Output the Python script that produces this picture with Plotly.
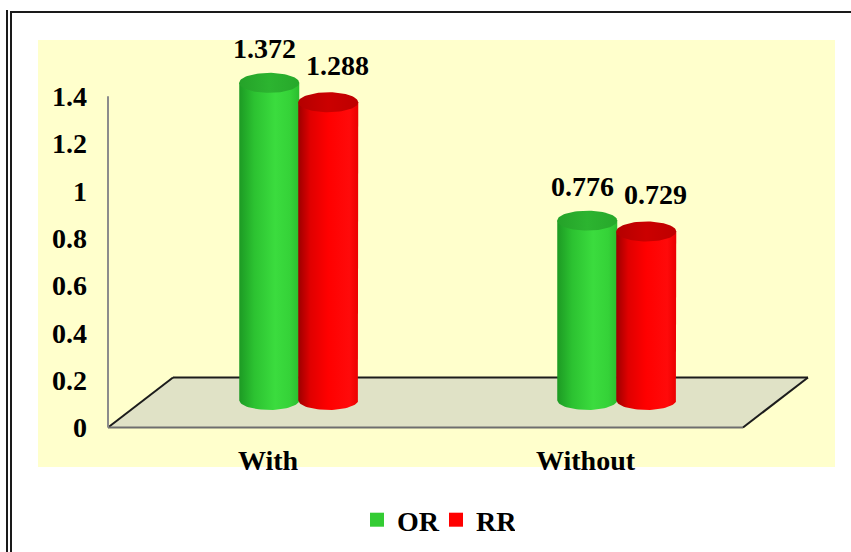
import numpy as np
import plotly.graph_objects as go

# ---- data -------------------------------------------------------------
categories = ["With", "Without"]
series_names = ["OR", "RR"]
or_values = [1.372, 0.776]
rr_values = [1.288, 0.729]
y_tick_values = [0, 0.2, 0.4, 0.6, 0.8, 1.0, 1.2, 1.4]
y_tick_labels = ["0", "0.2", "0.4", "0.6", "0.8", "1", "1.2", "1.4"]

# ---- geometry of the pseudo-3D scene ---------------------------------
W, H = 851, 552
STEP_PX = 318.0      # pixels between category anchors
ANCHOR_PX = 263.0    # pixel x of the first category (front edge of floor)
UNIT_PX = 236.6      # pixels per value unit on the y axis
ZERO_PX = 427.5      # pixel y of value 0 (front of floor)

x_range = [-ANCHOR_PX / STEP_PX, (W - ANCHOR_PX) / STEP_PX]
y_range = [-(H - ZERO_PX) / UNIT_PX, ZERO_PX / UNIT_PX]


def px_to_x(px):
    return (px - ANCHOR_PX) / STEP_PX


def py_to_v(dpx):
    return dpx / UNIT_PX


depth_dx = 65 / STEP_PX           # floor depth, horizontal
depth_dv = py_to_v(50)            # floor depth, vertical
bar_depth = 0.55                  # bars stand at 55% of the floor depth
perspective = 0.977               # deeper objects appear slightly shorter
half_w = 30 / STEP_PX             # cylinder radius (x units)
ell_h = py_to_v(10)               # cylinder cap half-height (value units)
series_offset = [-29.5 / STEP_PX, 29.5 / STEP_PX]

floor_front_left = px_to_x(108)
floor_front_right = px_to_x(743)

body_scales = [
    [[0, "#1d9a24"], [0.25, "#2cc231"], [0.6, "#3bdc3e"], [0.85, "#35d238"], [1, "#2bbd2f"]],
    [[0, "#9c0000"], [0.2, "#e00000"], [0.5, "#ff0000"], [0.85, "#ff0a0a"], [1, "#ea0000"]],
]
cap_scales = [
    [[0, "#25a229"], [0.5, "#2cb430"], [1, "#27a82b"]],
    [[0, "#b40000"], [0.5, "#cb0000"], [1, "#be0000"]],
]
legend_colors = ["#33cc33", "#ff0000"]
label_shift = [(-5, 34), (9, 37)]

FONT = "Liberation Serif"
FSIZE = 28

fig = go.Figure()

series_values = [or_values, rr_values]
base_v = bar_depth * depth_dv
theta = np.linspace(0, np.pi, 40)
theta_full = np.linspace(0, 2 * np.pi, 80)

annotations = []
for ci, cat in enumerate(categories):
    pair_x = ci + bar_depth * depth_dx
    for si, vals in enumerate(series_values):
        xc = pair_x + series_offset[si]
        top_v = base_v + vals[ci] * perspective
        # cylinder body: straight sides + front half of the base ellipse
        bx = [xc - half_w, xc - half_w, xc + half_w] + list(xc + half_w * np.cos(theta))
        by = [base_v, top_v, top_v] + list(base_v - ell_h * np.sin(theta))
        fig.add_trace(go.Scatter(
            x=bx, y=by, mode="lines", fill="toself",
            line=dict(width=0), fillcolor=legend_colors[si],
            fillgradient=dict(type="horizontal", colorscale=body_scales[si]),
            showlegend=False, hoverinfo="skip"))
        # top cap
        fig.add_trace(go.Scatter(
            x=list(xc + half_w * np.cos(theta_full)),
            y=list(top_v + ell_h * np.sin(theta_full)),
            mode="lines", fill="toself", line=dict(width=0),
            fillcolor=legend_colors[si],
            fillgradient=dict(type="horizontal", colorscale=cap_scales[si]),
            showlegend=False, hoverinfo="skip"))
        annotations.append(dict(
            x=xc, y=top_v, xref="x", yref="y", text=f"{vals[ci]:.3f}",
            showarrow=False, xanchor="center", yanchor="middle",
            xshift=label_shift[si][0], yshift=label_shift[si][1],
            font=dict(family=FONT, size=FSIZE, color="black", weight="bold")))
    annotations.append(dict(
        x=ci, y=0, xref="x", yref="y", text=cat, showarrow=False,
        xanchor="center", yanchor="middle", xshift=5, yshift=-33,
        font=dict(family=FONT, size=FSIZE, color="black", weight="bold")))

# legend entries
for si, name in enumerate(series_names):
    fig.add_trace(go.Scatter(
        x=[None], y=[None], mode="markers", name=name,
        marker=dict(symbol="square", size=14, color=legend_colors[si])))

# ---- background, floor, axis line and frame --------------------------
shapes = []
shapes.append(dict(type="rect", xref="paper", yref="paper",
                   x0=38 / W, x1=835 / W, y0=1 - 467 / H, y1=1 - 40 / H,
                   fillcolor="#ffffcc", line=dict(width=0), layer="below"))
fl, fr = floor_front_left, floor_front_right
floor_path = (f"M {fl},0 L {fl + depth_dx},{depth_dv} "
              f"L {fr + depth_dx},{depth_dv} L {fr},0 Z")
shapes.append(dict(type="path", xref="x", yref="y", path=floor_path,
                   fillcolor="#e0e2c6", line=dict(width=0), layer="below"))
dark = dict(color="#1c1c1c", width=2)
shapes += [
    dict(type="line", xref="x", yref="y", x0=fl, y0=0, x1=fl + depth_dx, y1=depth_dv,
         line=dark, layer="below"),
    dict(type="line", xref="x", yref="y", x0=fl + depth_dx, y0=depth_dv,
         x1=fr + depth_dx, y1=depth_dv, line=dark, layer="below"),
    dict(type="line", xref="x", yref="y", x0=fr + depth_dx, y0=depth_dv, x1=fr, y1=0,
         line=dark, layer="below"),
    dict(type="line", xref="x", yref="y", x0=fl, y0=0, x1=fr, y1=0,
         line=dict(color="#6e6e6e", width=2), layer="below"),
    dict(type="line", xref="x", yref="y", x0=fl, y0=0, x1=fl, y1=max(y_tick_values),
         line=dict(color="#8c8c8c", width=2), layer="below"),
]
frame = dict(color="#1a1a1a", width=2)
shapes += [
    dict(type="line", xref="paper", yref="paper", x0=7 / W, x1=7 / W,
         y0=0, y1=1 - 10 / H, line=frame),
    dict(type="line", xref="paper", yref="paper", x0=11 / W, x1=11 / W,
         y0=0, y1=1 - 12 / H, line=frame),
    dict(type="line", xref="paper", yref="paper", x0=10 / W, x1=1,
         y0=1 - 12 / H, y1=1 - 12 / H, line=frame),
]

fig.update_layout(
    width=W, height=H,
    margin=dict(l=0, r=0, t=0, b=0, pad=0),
    paper_bgcolor="white", plot_bgcolor="rgba(0,0,0,0)",
    xaxis=dict(range=x_range, visible=False, fixedrange=True),
    yaxis=dict(range=y_range, anchor="free", position=108 / W,
               tickvals=y_tick_values, ticktext=y_tick_labels,
               showgrid=False, zeroline=False, showline=False, ticks="",
               ticklabelstandoff=21, automargin=False, fixedrange=True,
               tickfont=dict(family=FONT, size=FSIZE, color="black", weight="bold")),
    shapes=shapes,
    annotations=annotations,
    showlegend=True,
    legend=dict(orientation="h", x=436 / W, xanchor="center",
                y=1 - 520 / H, yanchor="middle", entrywidth=34,
                bgcolor="rgba(0,0,0,0)",
                font=dict(family=FONT, size=FSIZE, color="black", weight="bold")),
)

fig.write_html("out.html")
